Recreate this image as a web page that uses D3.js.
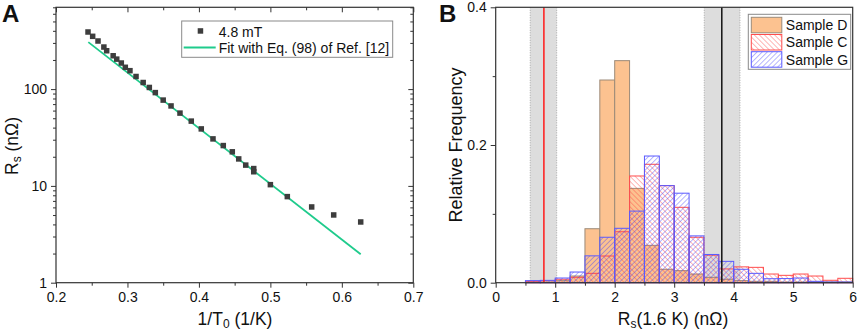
<!DOCTYPE html>
<html>
<head>
<meta charset="utf-8">
<script src="https://cdn.jsdelivr.net/npm/d3@7"></script>
<style>
  html, body { margin: 0; padding: 0; background: #fff; }
  svg { display: block; font-family: "Liberation Sans", Arial, sans-serif; }
</style>
</head>
<body>
<svg id="chart" width="858" height="334"></svg>
<script>
// --- Panel A data: Rs vs 1/T0 at 4.8 mT ---
const invT = [0.2448, 0.2513, 0.2588, 0.267, 0.2709, 0.280, 0.285, 0.2914, 0.297, 0.3035,
  0.312, 0.322, 0.3306, 0.339, 0.350, 0.361, 0.3735, 0.3893, 0.4033, 0.4197,
  0.4341, 0.4467, 0.4557, 0.4655, 0.4767, 0.4767, 0.500, 0.5237, 0.5578, 0.5886, 0.6264];
const rsVals = [389, 351, 314, 272, 249, 221, 204, 186, 168, 155,
  135, 117, 104, 92, 77, 67, 56.5, 46.7, 38.8, 30.6,
  26.1, 22.5, 19.0, 16.4, 15.1, 14.0, 10.3, 7.75, 6.06, 5.01, 4.24];
const fitX = [0.2452, 0.6264];
const fitY = [306, 1.97];
const xTicksA = [0.2, 0.3, 0.4, 0.5, 0.6, 0.7];
const yTicksA = [1, 10, 100];

// --- Panel B data: relative frequency histograms (bin width 0.25 nOhm) ---
const binStarts = [0.5, 0.75, 1.0, 1.25, 1.5, 1.75, 2.0, 2.25, 2.5, 2.75, 3.0,
  3.25, 3.5, 3.75, 4.0, 4.25, 4.5, 4.75, 5.0, 5.25, 5.5, 5.75];
const sampleD = [0.001, 0.001, 0.003, 0.0097, 0.0784, 0.2944, 0.3225, 0.137, 0.0543, 0.0195, 0.0175,
  0.0126, 0.0078, 0.005, 0.003, 0.002, 0.002, 0.001, 0.001, 0.001, 0.001, 0.001];
const sampleC = [0.002, 0.003, 0.005, 0.0078, 0.0136, 0.0388, 0.074, 0.155, 0.172, 0.141, 0.1095,
  0.066, 0.040, 0.020, 0.023, 0.0223, 0.0126, 0.0107, 0.0126, 0.0097, 0.0035, 0.0064];
const sampleG = [0.003, 0.0034, 0.0068, 0.0155, 0.039, 0.066, 0.079, 0.104, 0.184, 0.141, 0.130,
  0.068, 0.041, 0.031, 0.0195, 0.0136, 0.0058, 0.006, 0.0068, 0.002, 0.001, 0.001];
const bands = [[0.58, 1.025], [3.505, 4.105]];
const refLines = [{ x: 0.81, color: "#ff1a1a" }, { x: 3.80, color: "#111111" }];
const xTicksB = [0, 1, 2, 3, 4, 5, 6];
const yTicksB = [0, 0.2, 0.4];
const binWidth = 0.25;

const svg = d3.select("#chart");
const defs = svg.append("defs");

// hatch patterns
const addHatch = (id, color, angle) => {
  const p = defs.append("pattern")
    .attr("id", id)
    .attr("patternUnits", "userSpaceOnUse")
    .attr("width", 3.6).attr("height", 3.6)
    .attr("patternTransform", `rotate(${angle})`);
  p.append("line")
    .attr("x1", 0).attr("y1", 0).attr("x2", 0).attr("y2", 3.6)
    .attr("stroke", color).attr("stroke-width", 1).attr("stroke-opacity", 0.75);
};
addHatch("hatchC", "#ff3b3b", -45);
addHatch("hatchG", "#3b3bff", 45);

// ================= Panel A =================
const A = { left: 56, right: 413.3, top: 7.3, bottom: 282.7 };
const xA = d3.scaleLinear().domain([0.2, 0.7]).range([A.left, A.right]);
const yA = d3.scaleLog().domain([1, 700]).range([A.bottom, A.top]);
const gA = svg.append("g");

const minorY = [];
[1, 10, 100].forEach(d => { for (let k = 2; k <= 9; k++) if (d * k <= 700) minorY.push(d * k); });
const minorX = [0.25, 0.35, 0.45, 0.55, 0.65];

// axes (left / bottom outward, top / right inward)
const styleAxis = sel => {
  sel.select(".domain").remove();
  sel.selectAll(".tick line").attr("stroke", "#333");
  sel.selectAll("text").attr("fill", "#111").style("font-size", "14px");
};
gA.append("g").attr("transform", `translate(${A.left},0)`)
  .call(d3.axisLeft(yA).tickValues(yTicksA).tickFormat(d3.format("d")).tickSize(5).tickPadding(4))
  .call(styleAxis);
gA.append("g").attr("transform", `translate(${A.left},0)`)
  .call(d3.axisLeft(yA).tickValues(minorY).tickFormat("").tickSize(3))
  .call(styleAxis);
gA.append("g").attr("transform", `translate(${A.right},0)`)
  .call(d3.axisLeft(yA).tickValues(yTicksA).tickFormat("").tickSize(5))
  .call(styleAxis);
gA.append("g").attr("transform", `translate(${A.right},0)`)
  .call(d3.axisLeft(yA).tickValues(minorY).tickFormat("").tickSize(3))
  .call(styleAxis);
gA.append("g").attr("transform", `translate(0,${A.bottom})`)
  .call(d3.axisBottom(xA).tickValues(xTicksA).tickFormat(d3.format(".1f")).tickSize(5).tickPadding(4))
  .call(styleAxis);
gA.append("g").attr("transform", `translate(0,${A.bottom})`)
  .call(d3.axisBottom(xA).tickValues(minorX).tickFormat("").tickSize(3))
  .call(styleAxis);
gA.append("g").attr("transform", `translate(0,${A.top})`)
  .call(d3.axisBottom(xA).tickValues(xTicksA).tickFormat("").tickSize(5))
  .call(styleAxis);
gA.append("g").attr("transform", `translate(0,${A.top})`)
  .call(d3.axisBottom(xA).tickValues(minorX).tickFormat("").tickSize(3))
  .call(styleAxis);

gA.append("rect")
  .attr("x", A.left).attr("y", A.top)
  .attr("width", A.right - A.left).attr("height", A.bottom - A.top)
  .attr("fill", "none").attr("stroke", "#333").attr("stroke-width", 1.2);

// fit line
const fitData = fitX.map((x, i) => ({ x, y: fitY[i] }));
gA.append("path")
  .datum(fitData)
  .attr("fill", "none")
  .attr("stroke", "#1fcb8c")
  .attr("stroke-width", 1.8)
  .attr("d", d3.line().x(d => xA(d.x)).y(d => yA(d.y)));

// data squares
const pts = invT.map((x, i) => ({ x, y: rsVals[i] }));
gA.selectAll("rect.pt")
  .data(pts)
  .enter().append("rect")
  .attr("class", "pt")
  .attr("x", d => xA(d.x) - 2.75)
  .attr("y", d => yA(d.y) - 2.75)
  .attr("width", 5.5).attr("height", 5.5)
  .attr("fill", "#3d3d3d");

// legend A
const legA = gA.append("g").attr("transform", "translate(181.7,21)");
legA.append("rect").attr("width", 211).attr("height", 36.3)
  .attr("fill", "#fff").attr("stroke", "#8a8a8a").attr("stroke-width", 1);
legA.append("rect").attr("x", 16).attr("y", 7.2).attr("width", 5.5).attr("height", 5.5).attr("fill", "#3d3d3d");
legA.append("text").attr("x", 37).attr("y", 15.5).style("font-size", "14px").attr("fill", "#111").text("4.8 mT");
legA.append("line").attr("x1", 2).attr("x2", 34).attr("y1", 26.5).attr("y2", 26.5)
  .attr("stroke", "#1fcb8c").attr("stroke-width", 1.8);
legA.append("text").attr("x", 37).attr("y", 32).style("font-size", "14px").attr("fill", "#111")
  .text("Fit with Eq. (98) of Ref. [12]");

// axis titles A
const yTitleA = gA.append("text")
  .attr("transform", "translate(18,146) rotate(-90)")
  .attr("text-anchor", "middle").style("font-size", "17.5px").attr("fill", "#111");
yTitleA.append("tspan").text("R");
yTitleA.append("tspan").attr("baseline-shift", "-3px").style("font-size", "12px").text("s");
yTitleA.append("tspan").text(" (nΩ)");

const xTitleA = gA.append("text")
  .attr("x", 235).attr("y", 325)
  .attr("text-anchor", "middle").style("font-size", "17.5px").attr("fill", "#111");
xTitleA.append("tspan").text("1/T");
xTitleA.append("tspan").attr("baseline-shift", "-3px").style("font-size", "12px").text("0");
xTitleA.append("tspan").text(" (1/K)");

svg.append("text").attr("x", 2).attr("y", 22).style("font-size", "24px").style("font-weight", "bold")
  .attr("fill", "#111").text("A");

// ================= Panel B =================
const B = { left: 495.7, right: 852.7, top: 7.3, bottom: 282.7 };
const xB = d3.scaleLinear().domain([0, 6]).range([B.left, B.right]);
const yB = d3.scaleLinear().domain([0, 0.4]).range([B.bottom, B.top]);
const gB = svg.append("g");

// shaded uncertainty bands
bands.forEach(([a, b]) => {
  gB.append("rect")
    .attr("x", xB(a)).attr("y", B.top)
    .attr("width", xB(b) - xB(a)).attr("height", B.bottom - B.top)
    .attr("fill", "#dddddd");
  [a, b].forEach(v => {
    gB.append("line")
      .attr("x1", xB(v)).attr("x2", xB(v)).attr("y1", B.top).attr("y2", B.bottom)
      .attr("stroke", "#a8a8a8").attr("stroke-width", 1).attr("stroke-dasharray", "1,1.5");
  });
});

const drawBars = (vals, fill, stroke, cls) => {
  gB.selectAll(`rect.${cls}`)
    .data(vals.map((v, i) => ({ x0: binStarts[i], v })))
    .enter().append("rect")
    .attr("class", cls)
    .attr("x", d => xB(d.x0))
    .attr("y", d => yB(d.v))
    .attr("width", xB(binWidth) - xB(0))
    .attr("height", d => yB(0) - yB(d.v))
    .attr("fill", fill)
    .attr("stroke", stroke)
    .attr("stroke-width", 1);
};
drawBars(sampleD, "#fcc290", "#9c8a78", "barD");
drawBars(sampleC, "url(#hatchC)", "#ff4d4d", "barC");
drawBars(sampleG, "url(#hatchG)", "#5a5aff", "barG");

refLines.forEach(l => {
  gB.append("line")
    .attr("x1", xB(l.x)).attr("x2", xB(l.x)).attr("y1", B.top).attr("y2", B.bottom)
    .attr("stroke", l.color).attr("stroke-width", 1.5);
});

// axes B
gB.append("g").attr("transform", `translate(${B.left},0)`)
  .call(d3.axisLeft(yB).tickValues(yTicksB).tickFormat(d3.format(".1f")).tickSize(5).tickPadding(4))
  .call(styleAxis);
gB.append("g").attr("transform", `translate(${B.left},0)`)
  .call(d3.axisLeft(yB).tickValues([0.1, 0.3]).tickFormat("").tickSize(3))
  .call(styleAxis);
gB.append("g").attr("transform", `translate(0,${B.bottom})`)
  .call(d3.axisBottom(xB).tickValues(xTicksB).tickFormat(d3.format("d")).tickSize(5).tickPadding(4))
  .call(styleAxis);
gB.append("g").attr("transform", `translate(0,${B.bottom})`)
  .call(d3.axisBottom(xB).tickValues([0.5, 1.5, 2.5, 3.5, 4.5, 5.5]).tickFormat("").tickSize(3))
  .call(styleAxis);

gB.append("rect")
  .attr("x", B.left).attr("y", B.top)
  .attr("width", B.right - B.left).attr("height", B.bottom - B.top)
  .attr("fill", "none").attr("stroke", "#333").attr("stroke-width", 1.2);

// legend B
const legB = gB.append("g").attr("transform", "translate(748.3,14.3)");
legB.append("rect").attr("width", 102.4).attr("height", 55)
  .attr("fill", "#fff").attr("stroke", "#8a8a8a").attr("stroke-width", 1);
const legItems = [
  { label: "Sample D", fill: "#fcc290", stroke: "#9c8a78" },
  { label: "Sample C", fill: "url(#hatchC)", stroke: "#ff4d4d" },
  { label: "Sample G", fill: "url(#hatchG)", stroke: "#5a5aff" }
];
legItems.forEach((d, i) => {
  legB.append("rect")
    .attr("x", 3).attr("y", 3 + i * 17.2)
    .attr("width", 30.5).attr("height", 15.5)
    .attr("fill", d.fill).attr("stroke", d.stroke).attr("stroke-width", 1);
  legB.append("text")
    .attr("x", 37.5).attr("y", 16 + i * 17.2)
    .style("font-size", "14px").attr("fill", "#111").text(d.label);
});

// axis titles B
gB.append("text")
  .attr("transform", "translate(462,145) rotate(-90)")
  .attr("text-anchor", "middle").style("font-size", "18px").attr("fill", "#111")
  .text("Relative Frequency");

const xTitleB = gB.append("text")
  .attr("x", 673).attr("y", 325)
  .attr("text-anchor", "middle").style("font-size", "17.5px").attr("fill", "#111");
xTitleB.append("tspan").text("R");
xTitleB.append("tspan").attr("baseline-shift", "-3px").style("font-size", "12px").text("s");
xTitleB.append("tspan").text("(1.6 K) (nΩ)");

svg.append("text").attr("x", 439).attr("y", 22).style("font-size", "24px").style("font-weight", "bold")
  .attr("fill", "#111").text("B");
</script>
</body>
</html>
